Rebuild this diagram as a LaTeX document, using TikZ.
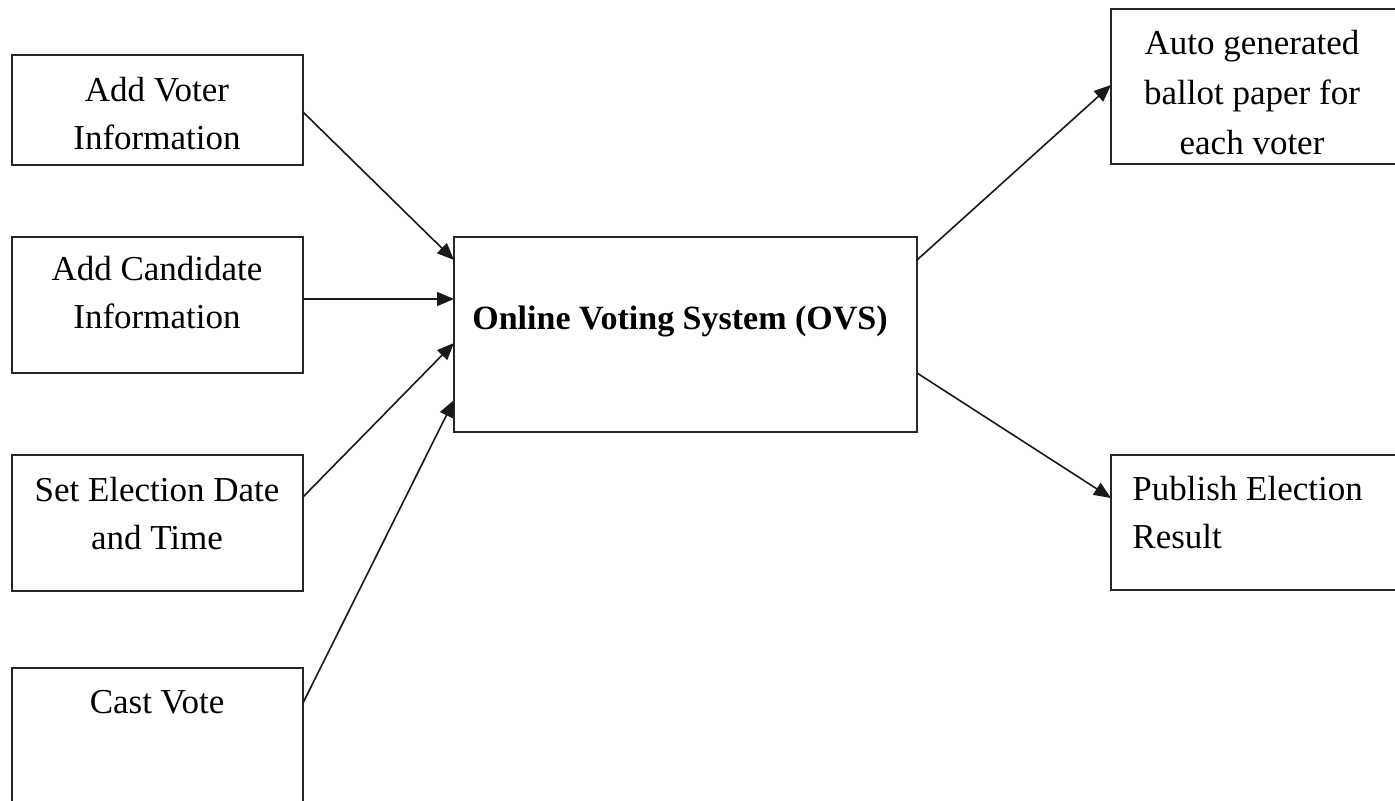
\documentclass[tikz,border=0pt]{standalone}
\usepackage{fontspec}
\setmainfont{Liberation Serif}
\usetikzlibrary{arrows.meta}
\begin{document}
\begin{tikzpicture}[x=0.5pt,y=-0.5pt,
  boxnode/.style={draw=black!85,line width=1pt,rectangle,inner sep=0pt,outer sep=0pt},
  txt/.style={inner sep=0pt,align=center,font=\fontsize{17.5}{24}\selectfont},
  flow/.style={draw=black!90,line width=0.8pt,-{Triangle[length=8.5pt,width=7pt]}}]
\useasboundingbox (0,0) rectangle (1395,801);
\clip (0,0) rectangle (1395,801);
\fill[white] (0,0) rectangle (1395,801);
% boxes
\node[boxnode,minimum width=145.5pt,minimum height=55pt] (b1) at (157.5,110) {};
\node[boxnode,minimum width=145.5pt,minimum height=68pt] (b2) at (157.5,305) {};
\node[boxnode,minimum width=145.5pt,minimum height=68pt] (b3) at (157.5,523) {};
\node[boxnode,minimum width=145.5pt,minimum height=81pt] (b4) at (157.5,749) {};
\node[boxnode,minimum width=231.5pt,minimum height=97.5pt] (c) at (685.5,334.5) {};
\node[boxnode,minimum width=154.5pt,minimum height=77.5pt] (r1) at (1265.5,86.5) {};
\node[boxnode,minimum width=154.5pt,minimum height=67.5pt] (r2) at (1265.5,522.5) {};
% texts
\node[txt] (t1) at (157,114) {Add Voter\\Information};
\node[txt] (t2) at (157,293) {Add Candidate\\Information};
\node[txt] (t3) at (157,514) {Set Election Date\\and Time};
\node[txt] (t4) at (157,702) {Cast Vote};
\node[txt,font=\fontsize{17}{24}\selectfont\bfseries] (tc) at (680,321) {Online Voting System (OVS)};
\node[txt,font=\fontsize{17.5}{25}\selectfont] (tr1) at (1252,93) {Auto generated\\ballot paper for\\each voter};
\node[txt,align=left,anchor=west] (tr2) at (1132,513) {Publish Election\\Result};
% connectors
\draw[flow] ([yshift=-1pt]b1.east) -- ([yshift=37.25pt]c.west);
\draw[flow] ([yshift=3pt]b2.east) -- ([yshift=17.75pt]c.west);
\draw[flow] ([yshift=13pt]b3.east) -- ([yshift=-4.25pt]c.west);
\draw[flow] ([yshift=23pt]b4.east) -- ([yshift=-32.75pt]c.west);
\draw[flow] ([yshift=37.25pt]c.east) -- ([yshift=0.75pt]r1.west);
\draw[flow] ([yshift=-19.25pt]c.east) -- ([yshift=12.25pt]r2.west);
\end{tikzpicture}
\end{document}
